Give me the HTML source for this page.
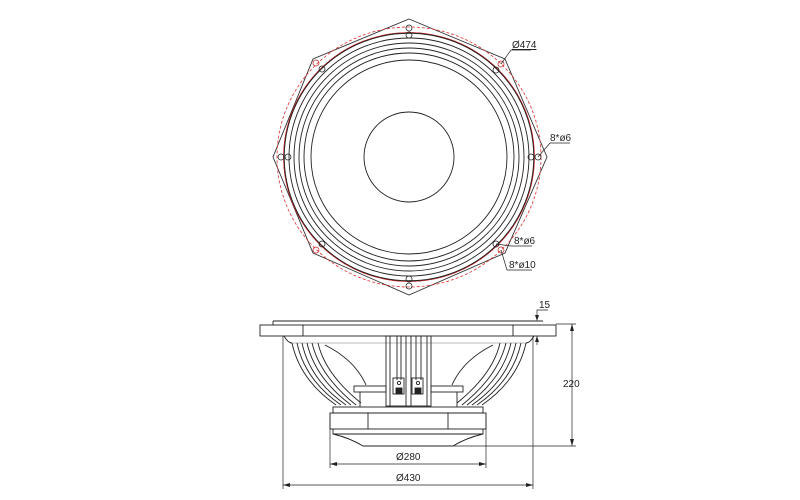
<!DOCTYPE html>
<html><head><meta charset="utf-8"><style>
html,body{margin:0;padding:0;background:#fff}
svg{display:block}
text{font-family:"Liberation Sans",sans-serif;font-size:10px;fill:#222}
</style></head><body>
<svg width="800" height="500" viewBox="0 0 800 500" xmlns="http://www.w3.org/2000/svg">
<g fill="none" stroke="#222" stroke-width="0.9">
<!-- TOP VIEW -->
<polygon points="409,19 505,59 547,157 505,253 409,295 313,253 273,157 313,59" stroke="#333"/>
<ellipse cx="409" cy="157" rx="132" ry="130" stroke="#e03030" stroke-dasharray="3,2" stroke-width="0.8"/>
<ellipse cx="409" cy="157" rx="125" ry="124" stroke-width="1.4"/>
<ellipse cx="409" cy="157" rx="125.5" ry="124.5" stroke="#d02020" stroke-width="0.6"/>
<ellipse cx="409" cy="157" rx="120" ry="119"/>
<ellipse cx="409" cy="157" rx="115" ry="114"/>
<ellipse cx="409" cy="157" rx="110" ry="109"/>
<ellipse cx="409" cy="157" rx="105" ry="104"/>
<ellipse cx="409" cy="157" rx="98" ry="97"/>
<circle cx="409" cy="157" r="45"/>
<!-- holes -->
<g stroke-width="0.8">
<circle cx="409" cy="28" r="3"/><circle cx="409" cy="35" r="3"/>
<circle cx="409" cy="286" r="3"/><circle cx="409" cy="279" r="3"/>
<circle cx="281" cy="157" r="3"/><circle cx="288" cy="157" r="3"/>
<circle cx="538" cy="157" r="3"/><circle cx="531" cy="157" r="3"/>
<circle cx="501" cy="64" r="3" stroke="#c03030"/><circle cx="496" cy="70" r="3"/>
<circle cx="316" cy="63" r="3" stroke="#c03030"/><circle cx="322" cy="69" r="3"/>
<circle cx="501" cy="250" r="3" stroke="#c03030"/><circle cx="496" cy="244" r="3"/>
<circle cx="316" cy="250" r="3" stroke="#c03030"/><circle cx="322" cy="244" r="3"/>
</g>
<!-- leaders -->
<polyline points="501,64 511,50 531,50" stroke-width="0.7"/>
<polyline points="538,157 550,143 570,143" stroke-width="0.7"/>
<polyline points="496,244 511,246 532,246" stroke-width="0.7"/>
<polyline points="501,250 507,270 532,270" stroke-width="0.7"/>

<!-- SIDE VIEW -->
<line x1="273" y1="321" x2="543" y2="321"/>
<line x1="273" y1="321" x2="273" y2="325"/>
<rect x="260" y="325" width="296" height="11"/>
<line x1="303" y1="325" x2="303" y2="336"/>
<line x1="513" y1="325" x2="513" y2="336"/>
<line x1="290" y1="343" x2="527" y2="343" stroke="#bbb"/>
<path d="M284,336 Q288,343 292,343"/>
<path d="M292,343 Q300,380 336,405"/>
<path d="M297,343 Q305,380 341,405"/>
<path d="M302,343 Q310,380 346,405"/>
<path d="M307,343 Q315,378 351,405"/>
<path d="M312,343 Q320,376 356,405"/>
<path d="M318,343 Q325,374 361,403"/>
<path d="M325,345 Q355,360 366,385"/>
<path d="M534,336 Q530,343 526,343"/>
<path d="M526,343 Q518,380 482,405"/>
<path d="M521,343 Q513,380 477,405"/>
<path d="M516,343 Q508,380 472,405"/>
<path d="M511,343 Q503,378 467,405"/>
<path d="M506,343 Q498,376 462,405"/>
<path d="M500,343 Q493,374 457,403"/>
<path d="M493,345 Q463,360 452,385"/>
<rect x="386" y="336" width="45" height="70"/>
<line x1="390" y1="336" x2="390" y2="406"/>
<line x1="397" y1="336" x2="397" y2="380"/>
<line x1="401" y1="336" x2="401" y2="380"/>
<line x1="406" y1="336" x2="406" y2="406"/>
<line x1="411" y1="336" x2="411" y2="406"/>
<line x1="416" y1="336" x2="416" y2="380"/>
<line x1="421" y1="336" x2="421" y2="380"/>
<line x1="427" y1="336" x2="427" y2="406"/>
<rect x="393" y="378" width="11" height="16"/>
<rect x="412" y="378" width="11" height="16"/>
<rect x="396" y="388" width="6" height="6" fill="#222"/>
<rect x="415" y="388" width="6" height="6" fill="#222"/>
<circle cx="399" cy="383" r="1.6"/><circle cx="418" cy="383" r="1.6"/>
<rect x="354" y="386" width="32" height="6"/>
<rect x="431" y="386" width="32" height="6"/>
<line x1="360" y1="392" x2="360" y2="407"/>
<line x1="457" y1="392" x2="457" y2="407"/>
<rect x="333" y="407" width="150" height="6"/>
<rect x="330" y="413" width="156" height="16"/>
<line x1="368" y1="413" x2="368" y2="429"/>
<line x1="448" y1="413" x2="448" y2="429"/>
<path d="M333,429 L333,434 Q350,438 363,446 L453,446 Q466,438 483,434 L483,429"/>
<line x1="333" y1="434" x2="483" y2="434"/>
<g stroke-width="0.7">
<line x1="556" y1="324" x2="576" y2="324"/>
<line x1="453" y1="446" x2="576" y2="446"/>
<line x1="572" y1="324" x2="572" y2="446"/>
<line x1="283" y1="336" x2="283" y2="489"/>
<line x1="533" y1="336" x2="533" y2="489"/>
<line x1="283" y1="485" x2="533" y2="485"/>
<line x1="330" y1="413" x2="330" y2="468"/>
<line x1="486" y1="413" x2="486" y2="468"/>
<line x1="330" y1="464" x2="486" y2="464"/>
<polyline points="537,317 537,310 548,310"/>
<line x1="537" y1="336" x2="537" y2="345"/>
</g>
<g fill="#222" stroke="none">
<polygon points="572,324 570,331 574,331"/><polygon points="572,446 570,439 574,439"/>
<polygon points="283,485 290,483 290,487"/><polygon points="533,485 526,483 526,487"/>
<polygon points="330,464 337,462 337,466"/><polygon points="486,464 479,462 479,466"/>
<polygon points="537,321 535,315 539,315"/><polygon points="537,336 535,342 539,342"/>
</g>
</g>
<text x="512" y="48" text-decoration="underline">Ø474</text>
<text x="550" y="141">8*ø6</text>
<text x="514" y="244">8*ø6</text>
<text x="509" y="268">8*ø10</text>
<text x="539" y="308">15</text>
<text x="563" y="387">220</text>
<text x="396" y="460">Ø280</text>
<text x="396" y="481">Ø430</text>
</svg>
</body></html>
